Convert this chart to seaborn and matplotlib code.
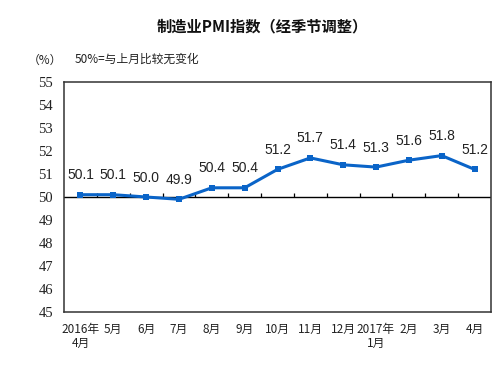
import numpy as np
import pandas as pd
import matplotlib
matplotlib.use("Agg")
import matplotlib.pyplot as plt
import seaborn as sns

# PMI data, April 2016 - April 2017
months = ["2016年\n4月", "5月", "6月", "7月", "8月", "9月", "10月", "11月",
          "12月", "2017年\n1月", "2月", "3月", "4月"]
pmi = [50.1, 50.1, 50.0, 49.9, 50.4, 50.4, 51.2, 51.7, 51.4, 51.3, 51.6, 51.8, 51.2]
yticks = list(range(45, 56))

df = pd.DataFrame({"pos": np.arange(len(months)), "pmi": pmi})

sns.set_style("white")
plt.rcParams['font.family'] = ['Noto Sans CJK SC', 'DejaVu Sans']

fig = plt.figure(figsize=(4.98, 3.67), dpi=100)
ax = fig.add_axes([64/498, 1 - 312/367, 427/498, 230/367])

blue = "#0a64c8"
sns.lineplot(data=df, x="pos", y="pmi", ax=ax, color=blue, linewidth=2.2,
             marker="s", markersize=5, markeredgewidth=0, zorder=3)

# reference line at 50 with small ticks between months
ax.axhline(50, color="black", linewidth=1, zorder=2)
ax.vlines(np.arange(len(months) - 1) + 0.5, 50, 50.17, color="black", linewidth=0.9)

for x, v in zip(df["pos"], df["pmi"]):
    ax.annotate(f"{v:.1f}", (x, v), xytext=(0, 9), textcoords="offset points",
                ha="center", va="bottom", fontsize=10,
                family=["Liberation Sans"], color="#222222")

ax.set_xlim(-0.5, len(months) - 0.5)
ax.set_ylim(45, 55)
ax.set_yticks(yticks)
ax.set_yticklabels([str(t) for t in yticks], family=["Liberation Serif"], fontsize=10.5)
ax.set_xticks(df["pos"])
ax.set_xticklabels(months, fontsize=8.5, family=["Noto Sans CJK SC"],
                   linespacing=1.1)
ax.tick_params(axis="y", direction="in", length=4, width=0.9, pad=8, colors="#222222")
ax.tick_params(axis="x", length=0, pad=8, colors="#222222")
ax.set_xlabel("")
ax.set_ylabel("")

for s in ax.spines.values():
    s.set_visible(True)
    s.set_color("#333333")
    s.set_linewidth(1.1)

fig.text(262/498, 1 - 26/367, "制造业PMI指数（经季节调整）", ha="center", va="center",
         fontsize=11, fontweight="bold", color="#111111")
fig.text(45/498, 1 - 60/367, "（%）", ha="center", va="center", fontsize=8.5, color="#222222")
fig.text(75/498, 1 - 59/367, "50%=与上月比较无变化", ha="left", va="center",
         fontsize=8.5, color="#222222")

fig.savefig("out.png", dpi=100)
